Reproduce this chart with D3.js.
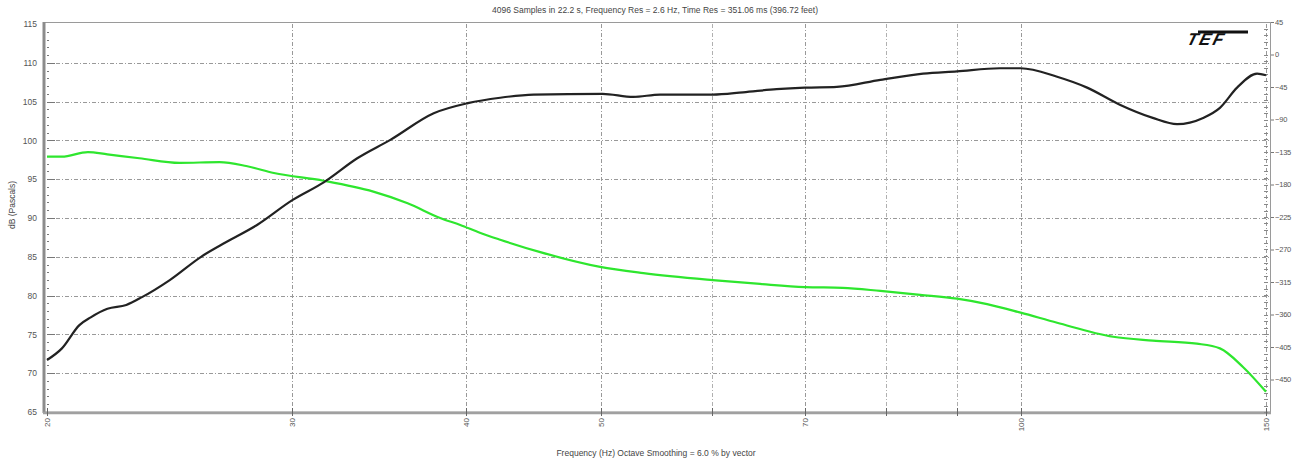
<!DOCTYPE html>
<html lang="en">
<head>
<meta charset="utf-8" />
<title>TEF response</title>
<script src="https://d3js.org/d3.v7.min.js"></script>
<style>
    body { margin: 0; background: #fff; }
    text { font-family: "Liberation Sans", Arial, sans-serif; }
</style>
</head>
<body>
<script>
    // frequency (Hz) / level (dB)
    var blackFreq = [20, 20.5, 21.1, 21.5, 22.1, 22.8, 23.4, 24.5, 25.8, 26.9, 28.3, 30, 31.6, 33.4, 35.3, 37.9, 40.1, 42.3, 44.7, 50.1, 52.7, 55.1, 60.1, 63.2, 66.8, 70, 73.8, 79.3, 85.1, 90, 96.6, 100, 106.2, 111.6, 117.8, 124.4, 129.5, 135.2, 139, 143, 147.8, 150];
    var blackDb = [71.7, 73.2, 76.2, 77.2, 78.3, 78.8, 79.8, 82.0, 85.0, 86.9, 89.1, 92.3, 94.6, 97.7, 100.1, 103.5, 104.8, 105.5, 105.9, 106.0, 105.6, 105.9, 105.9, 106.2, 106.6, 106.8, 106.9, 107.8, 108.6, 108.9, 109.3, 109.3, 108.2, 106.8, 104.6, 102.9, 102.1, 102.9, 104.2, 106.8, 108.6, 108.4];

    var greenFreq = [20, 20.5, 21.4, 22.1, 23.3, 24.9, 26.6, 27.8, 29.1, 31.6, 34.3, 36.3, 38.3, 39.6, 40.9, 42.3, 45.2, 49.9, 53.6, 60.1, 65, 70, 74.5, 79.3, 84.7, 90, 94.6, 100, 106.2, 116.5, 124.4, 133.8, 139, 144.4, 150];
    var greenDb = [97.9, 97.9, 98.5, 98.2, 97.7, 97.1, 97.2, 96.7, 95.8, 94.8, 93.4, 91.9, 90.0, 89.1, 88.1, 87.2, 85.6, 83.7, 82.9, 82.0, 81.5, 81.1, 81.0, 80.6, 80.1, 79.6, 78.9, 77.8, 76.5, 74.7, 74.2, 73.8, 73.2, 70.8, 67.6];

    var leftTicks = [65, 70, 75, 80, 85, 90, 95, 100, 105, 110, 115];
    var rightTicks = [45, 0, -45, -90, -135, -180, -225, -270, -315, -360, -405, -450];
    var freqMajor = [20, 30, 40, 50, 70, 100, 150];
    var freqGrid = [30, 40, 50, 60, 70, 80, 90, 100, 150];
    var freqMinor = [60, 80, 90];

    var titleText = "4096 Samples in 22.2 s, Frequency Res = 2.6 Hz, Time Res = 351.06 ms (396.72 feet)";
    var xTitle = "Frequency (Hz) Octave Smoothing = 6.0 % by vector";
    var yTitle = "dB (Pascals)";

    var w = 1293;
    var h = 465;
    var plotL = 47, plotR = 1266, plotT = 24, plotB = 412;

    var svg = d3.select("body")
        .append("svg")
        .attr("width", w)
        .attr("height", h);

    var xScale = d3.scaleLog()
        .domain([20, 150])
        .range([plotL, plotR]);

    var yScale = d3.scaleLinear()
        .domain([65, 115])
        .range([plotB, plotT]);

    var yRight = d3.scaleLinear()
        .domain([-495, 45])
        .range([plotB, plotT - 2]);

    // grid
    svg.append("g")
        .selectAll("line")
        .data(leftTicks.slice(1, -1))
        .enter()
        .append("line")
        .attr("x1", plotL)
        .attr("x2", plotR + 4)
        .attr("y1", function (d) { return Math.round(yScale(d)) + 0.5; })
        .attr("y2", function (d) { return Math.round(yScale(d)) + 0.5; })
        .attr("stroke", "#999")
        .attr("stroke-width", 1)
        .attr("stroke-dasharray", "4,2,1,2");

    svg.append("g")
        .selectAll("line")
        .data(freqGrid)
        .enter()
        .append("line")
        .attr("x1", function (d) { return Math.round(xScale(d)) + 0.5; })
        .attr("x2", function (d) { return Math.round(xScale(d)) + 0.5; })
        .attr("y1", plotT)
        .attr("y2", plotB)
        .attr("stroke", function (d) { return freqMinor.indexOf(d) >= 0 ? "#b0b0b0" : "#999"; })
        .attr("stroke-width", 1)
        .attr("stroke-dasharray", "4,2,1,2");

    // frame
    svg.append("rect")
        .attr("x", 43.5)
        .attr("y", plotT - 1.5)
        .attr("width", 1270 - 43)
        .attr("height", plotB - plotT + 1.5)
        .attr("fill", "none")
        .attr("stroke", "#9a9a9a")
        .attr("stroke-width", 1);

    svg.append("line")
        .attr("x1", 44).attr("x2", 44)
        .attr("y1", plotT - 2).attr("y2", plotB + 1)
        .attr("stroke", "#8c8c8c").attr("stroke-width", 3);

    svg.append("line")
        .attr("x1", 43).attr("x2", 1271)
        .attr("y1", plotB + 1).attr("y2", plotB + 1)
        .attr("stroke", "#a0a0a0").attr("stroke-width", 2.5);

    // left axis
    var leftAxis = d3.axisLeft(yScale)
        .tickValues(leftTicks)
        .tickSize(0)
        .tickPadding(5);

    var gl = svg.append("g")
        .attr("transform", "translate(42,0)")
        .call(leftAxis);
    gl.select(".domain").remove();
    gl.selectAll("text")
        .attr("font-size", "8.5px")
        .attr("fill", "#555");

    svg.append("g")
        .selectAll("line")
        .data(d3.range(66, 115))
        .enter()
        .append("line")
        .attr("x1", 47)
        .attr("x2", function (d) { return d % 5 === 0 ? 55 : 49; })
        .attr("y1", function (d) { return Math.round(yScale(d)) + 0.5; })
        .attr("y2", function (d) { return Math.round(yScale(d)) + 0.5; })
        .attr("stroke", "#777")
        .attr("stroke-width", 1);

    // right axis
    var rightAxis = d3.axisRight(yRight)
        .tickValues(rightTicks)
        .tickSize(3)
        .tickPadding(1);

    var gr = svg.append("g")
        .attr("transform", "translate(1271,0)")
        .call(rightAxis);
    gr.select(".domain").remove();
    gr.selectAll("line").attr("stroke", "#777");
    gr.selectAll("text")
        .attr("font-size", "7.5px")
        .attr("letter-spacing", "-0.2px")
        .attr("fill", "#555");

    svg.append("g")
        .selectAll("line")
        .data(d3.range(-495, 45, 9))
        .enter()
        .append("line")
        .attr("x1", 1264)
        .attr("x2", 1268)
        .attr("y1", function (d) { return Math.round(yRight(d)) + 0.5; })
        .attr("y2", function (d) { return Math.round(yRight(d)) + 0.5; })
        .attr("stroke", "#888")
        .attr("stroke-width", 1);

    // bottom axis
    svg.append("g")
        .selectAll("line")
        .data(freqMajor.concat(freqMinor))
        .enter()
        .append("line")
        .attr("x1", function (d) { return Math.round(xScale(d)) + 0.5; })
        .attr("x2", function (d) { return Math.round(xScale(d)) + 0.5; })
        .attr("y1", plotB - 4)
        .attr("y2", plotB + 4)
        .attr("stroke", "#666")
        .attr("stroke-width", 1);

    svg.append("g")
        .selectAll("text")
        .data(freqMajor)
        .enter()
        .append("text")
        .text(function (d) { return d; })
        .attr("transform", function (d) {
            return "translate(" + (xScale(d) + 3) + "," + (plotB + 6) + ") rotate(-90)";
        })
        .attr("text-anchor", "end")
        .attr("font-size", "8px")
        .attr("fill", "#555");

    // curves
    var line = d3.line()
        .x(function (d) { return xScale(d[0]); })
        .y(function (d) { return yScale(d[1]); })
        .curve(d3.curveMonotoneX);

    svg.append("path")
        .datum(d3.zip(greenFreq, greenDb))
        .attr("d", line)
        .attr("fill", "none")
        .attr("stroke", "#2ee62e")
        .attr("stroke-width", 2.2);

    svg.append("path")
        .datum(d3.zip(blackFreq, blackDb))
        .attr("d", line)
        .attr("fill", "none")
        .attr("stroke", "#222")
        .attr("stroke-width", 2.2);

    // titles
    svg.append("text")
        .text(titleText)
        .attr("x", 655)
        .attr("y", 13)
        .attr("text-anchor", "middle")
        .attr("font-size", "8.5px")
        .attr("fill", "#444");

    svg.append("text")
        .text(xTitle)
        .attr("x", 656)
        .attr("y", 456)
        .attr("text-anchor", "middle")
        .attr("font-size", "8.5px")
        .attr("fill", "#444");

    svg.append("text")
        .text(yTitle)
        .attr("transform", "translate(15,205) rotate(-90)")
        .attr("text-anchor", "middle")
        .attr("font-size", "8.5px")
        .attr("fill", "#444");

    // TEF logo
    var logo = svg.append("g").attr("transform", "translate(1190,30)");
    logo.append("line")
        .attr("x1", 8).attr("x2", 58).attr("y1", 2).attr("y2", 2)
        .attr("stroke", "#111").attr("stroke-width", 3);
    logo.append("text")
        .text("TEF")
        .attr("x", 0)
        .attr("y", 15)
        .attr("font-size", "17px")
        .attr("font-weight", "bold")
        .attr("font-style", "italic")
        .attr("letter-spacing", "2px")
        .attr("fill", "#111")
        .attr("transform", "skewX(-15)");
</script>
</body>
</html>
